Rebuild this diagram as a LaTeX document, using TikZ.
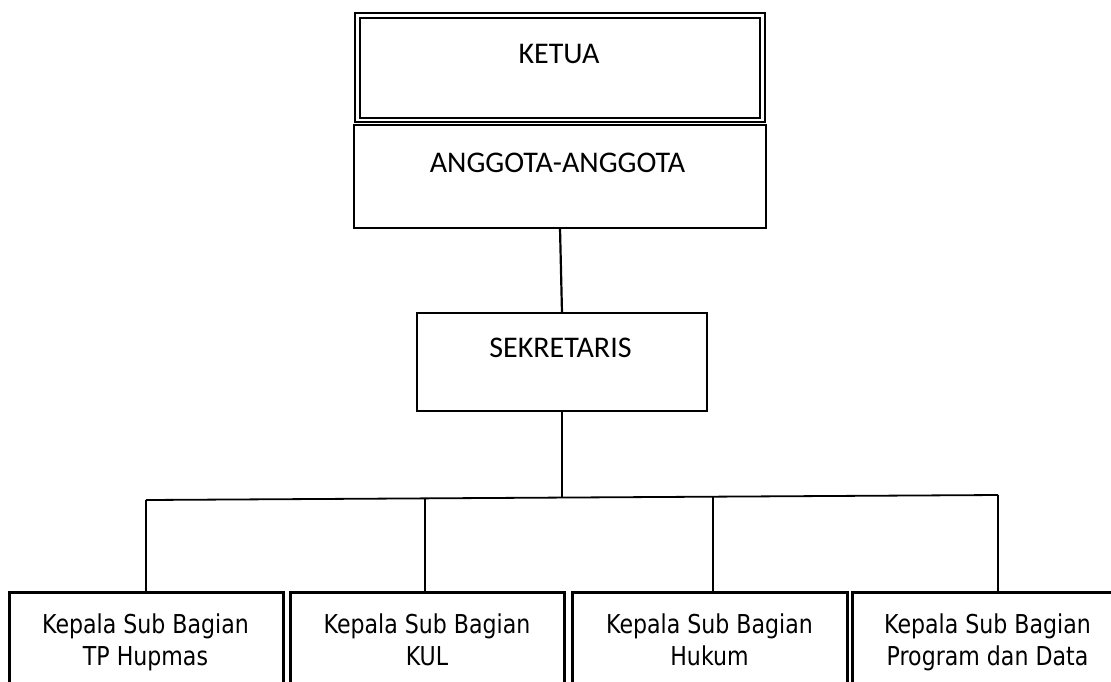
\documentclass[tikz,border=0pt]{standalone}
\usepackage{fontspec}
\setmainfont[FakeStretch=0.85]{DejaVu Sans}
\newfontfamily\topfont{Carlito}
\begin{document}
\begin{tikzpicture}[x=1pt,y=-1pt,
  box/.style={draw=black,line width=3pt,fill=white},
  lbl/.style={font=\fontsize{26}{32}\selectfont,align=center,inner sep=0pt},
  toplbl/.style={font=\topfont\fontsize{30}{36}\selectfont,inner sep=0pt},
  conn/.style={draw=black,line width=1.4pt}]
\useasboundingbox (0,0) rectangle (1111,681);
% top double box
\draw[line width=2.2pt] (355,13) rectangle (765,122);
\draw[line width=2.2pt] (360,18) rectangle (760,118);
\node[toplbl] (ketua) at (559,54) {KETUA};
\path[box,line width=2.6pt] (354,125) rectangle (766,228);
\node[toplbl] (anggota) at (557.5,162.5) {ANGGOTA-ANGGOTA};
\coordinate (aB) at (560,228);
% sekretaris
\path[box,line width=2.6pt] (417,313) rectangle (707,411);
\node[toplbl] (sek) at (560.5,348) {SEKRETARIS};
\coordinate (sT) at (562,313);
\coordinate (sB) at (562,411);
\draw[conn,line width=2.2pt] (aB) -- (sT);
% bus
\coordinate (bus) at (562,497.5);
\coordinate (b1) at (146,500);
\coordinate (b2) at (425,499);
\coordinate (b3) at (713,497);
\coordinate (b4) at (998,495);
\draw[conn] (sB) -- (bus);
\draw[conn,line width=1.8pt] (b1) -- (b4);
% bottom boxes
\path[box] (9,592) rectangle (283,720);
\path[box] (290,592) rectangle (564,720);
\path[box] (572,592) rectangle (847,720);
\path[box] (852,592) rectangle (1130,720);
\coordinate (t1) at (146,592);
\coordinate (t2) at (425,592);
\coordinate (t3) at (713,592);
\coordinate (t4) at (998,591);
\draw[conn] (b1) -- (t1);
\draw[conn] (b2) -- (t2);
\draw[conn] (b3) -- (t3);
\draw[conn] (b4) -- (t4);
\node[lbl] (k1) at (145.5,642.6) {\strut Kepala Sub Bagian\\\strut TP Hupmas};
\node[lbl] (k2) at (427,642.6) {\strut Kepala Sub Bagian\\\strut KUL};
\node[lbl] (k3) at (709.5,642.6) {\strut Kepala Sub Bagian\\\strut Hukum};
\node[lbl] (k4) at (987.5,642.6) {\strut Kepala Sub Bagian\\\strut Program dan Data};
\end{tikzpicture}
\end{document}
